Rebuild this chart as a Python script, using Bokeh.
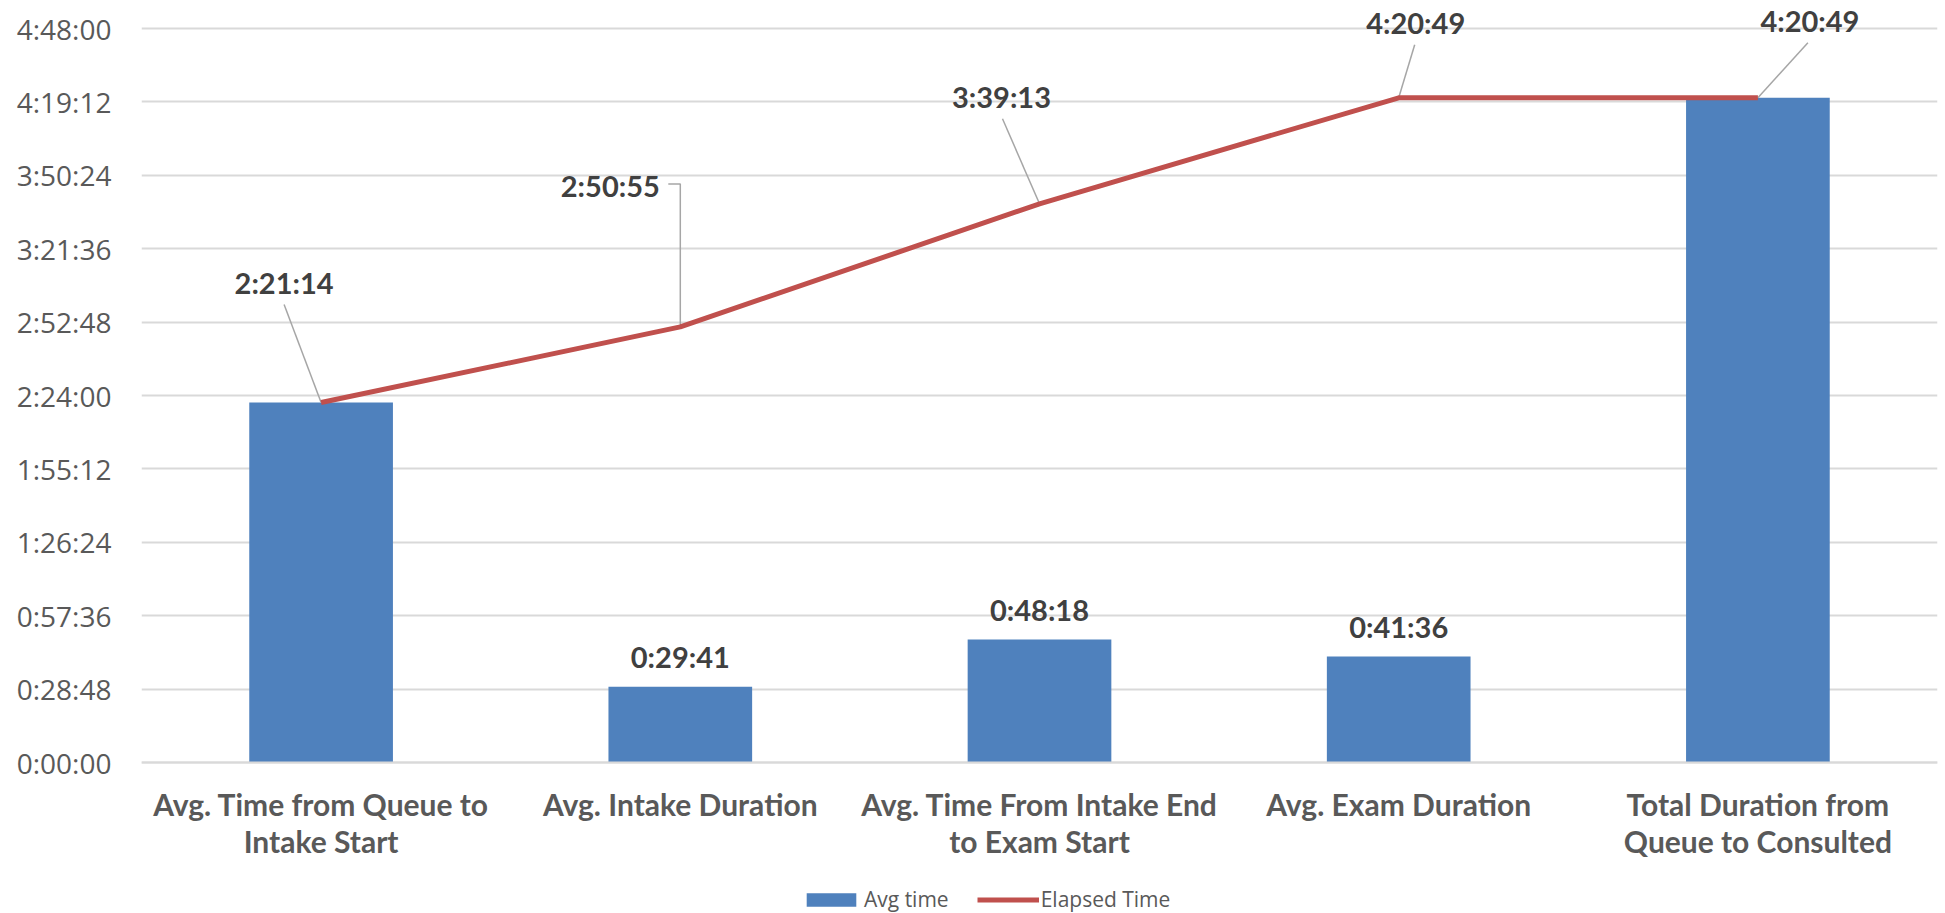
from bokeh.plotting import figure
from bokeh.models import (FactorRange, Range1d, FixedTicker, ColumnDataSource,
                          Legend, LegendItem, LabelSet)
from bokeh.core.properties import value
from bokeh.embed import file_html
from bokeh.resources import INLINE

# ---------------- data ----------------
categories = [
    "Avg. Time from Queue to\nIntake Start",
    "Avg. Intake Duration",
    "Avg. Time From Intake End\nto Exam Start",
    "Avg. Exam Duration",
    "Total Duration from\nQueue to Consulted",
]
avg_time_labels = ["2:21:14", "0:29:41", "0:48:18", "0:41:36", "4:20:49"]
elapsed_labels = ["2:21:14", "2:50:55", "3:39:13", "4:20:49", "4:20:49"]
y_tick_labels = ["0:00:00", "0:28:48", "0:57:36", "1:26:24", "1:55:12", "2:24:00",
                 "2:52:48", "3:21:36", "3:50:24", "4:19:12", "4:48:00"]
bar_label_index = [1, 2, 3]


def to_seconds(s):
    h, m, sec = (int(v) for v in s.split(":"))
    return h * 3600 + m * 60 + sec


avg_time = [to_seconds(s) for s in avg_time_labels]
elapsed = [to_seconds(s) for s in elapsed_labels]
y_ticks = [to_seconds(s) for s in y_tick_labels]

# ---------------- layout / style ----------------
PLOT_W, PLOT_H = 1796, 734          # area spanned by the gridlines
TOP_PAD = 28                        # frame space above the top gridline
BOTTOM_PAD = 151                    # frame space below zero (category labels, legend)
Y_MAX = y_ticks[-1]
PX_PER_CAT = PLOT_W / len(categories)
SEC_PER_PX = Y_MAX / PLOT_H

BAR_COLOR = "#4F81BD"
LINE_COLOR = "#C0504D"
GRID_COLOR = "#D9D9D9"
AXIS_TEXT = "#595959"
LABEL_TEXT = "#404040"
LEADER_COLOR = "#A6A6A6"

# label centre offsets (screen px, +x right, +y up) relative to each line point
line_label_dx = [-37, -70, -38, 17, 52]
line_label_dy = [120, 141, 107, 75, 77]
# leader line vertices (screen px offsets, +y up) from the label side to the point
leader_px = [
    [(-37, 98), (0, 0)],
    [(-12, 143), (0, 143), (0, 0)],
    [(-37, 85), (0, 0)],
    [(16, 53), (0, 0)],
    [(50, 55), (0, 0)],
]

p = figure(
    x_range=FactorRange(factors=categories, range_padding=0),
    y_range=Range1d(-BOTTOM_PAD * SEC_PER_PX, Y_MAX + TOP_PAD * SEC_PER_PX),
    frame_width=PLOT_W, frame_height=PLOT_H + TOP_PAD + BOTTOM_PAD,
    min_border_left=141, min_border_right=8,
    min_border_top=0, min_border_bottom=0,
    output_backend="svg", toolbar_location=None,
)
p.outline_line_color = None
p.background_fill_color = "white"
p.border_fill_color = "white"

# grid
p.xgrid.grid_line_color = None
p.ygrid.ticker = FixedTicker(ticks=y_ticks)
p.ygrid.grid_line_color = GRID_COLOR
p.ygrid.grid_line_width = 2

# y axis
p.yaxis.ticker = FixedTicker(ticks=y_ticks)
p.yaxis.major_label_overrides = {t: lab for t, lab in zip(y_ticks, y_tick_labels)}
p.yaxis.axis_line_color = None
p.yaxis.major_tick_line_color = None
p.yaxis.minor_tick_line_color = None
p.yaxis.major_tick_out = 0
p.yaxis.major_tick_in = 0
p.yaxis.major_label_standoff = 30
p.yaxis.major_label_text_font = "Open Sans"
p.yaxis.major_label_text_font_size = "28px"
p.yaxis.major_label_text_color = AXIS_TEXT

# x axis, pinned at zero
p.xaxis.fixed_location = 0
p.xaxis.axis_line_color = GRID_COLOR
p.xaxis.axis_line_width = 2
p.xaxis.major_tick_line_color = None
p.xaxis.minor_tick_line_color = None
p.xaxis.major_tick_out = 0
p.xaxis.major_tick_in = 0
p.xaxis.major_label_standoff = 23
p.xaxis.major_label_text_font = "Lato"
p.xaxis.major_label_text_font_style = "bold"
p.xaxis.major_label_text_font_size = "30px"
p.xaxis.major_label_text_color = AXIS_TEXT
p.xaxis.major_label_text_line_height = 1.05

# bars
bars = p.vbar(x=categories, top=avg_time, width=0.4, fill_color=BAR_COLOR, line_color=None)

# leader lines (data coords from the point + screen offsets)
xs, ys = [], []
for i, verts in enumerate(leader_px):
    xc = i + 0.5
    xs.append([xc + dx / PX_PER_CAT for dx, dy in verts])
    ys.append([elapsed[i] + dy * SEC_PER_PX for dx, dy in verts])
p.multi_line(xs=xs, ys=ys, line_color=LEADER_COLOR, line_width=1.5)

# elapsed line
line = p.line(x=categories, y=elapsed, line_color=LINE_COLOR, line_width=5)

label_font = dict(text_font=value("Lato"), text_font_style="bold",
                  text_font_size="29px", text_color=LABEL_TEXT,
                  text_align="center", text_baseline="middle")

line_src = ColumnDataSource(dict(x=categories, y=elapsed, text=elapsed_labels,
                                 dx=line_label_dx, dy=line_label_dy))
p.add_layout(LabelSet(x="x", y="y", text="text", x_offset="dx", y_offset="dy",
                      source=line_src, **label_font))

bar_src = ColumnDataSource(dict(
    x=[categories[i] for i in bar_label_index],
    y=[avg_time[i] for i in bar_label_index],
    text=[avg_time_labels[i] for i in bar_label_index],
))
p.add_layout(LabelSet(x="x", y="y", text="text", y_offset=30, source=bar_src, **label_font))

legend = Legend(
    items=[LegendItem(label="Avg time", renderers=[bars]),
           LegendItem(label="Elapsed Time", renderers=[line])],
    orientation="horizontal", location=(659, 0),
    border_line_color=None, background_fill_alpha=0,
    padding=0, margin=0, spacing=28,
    glyph_width=62, glyph_height=17, label_standoff=2,
    label_text_font="Open Sans", label_text_font_size="21px",
    label_text_color=AXIS_TEXT,
)
p.add_layout(legend, "center")

open("out.html", "w").write(file_html(p, INLINE))
